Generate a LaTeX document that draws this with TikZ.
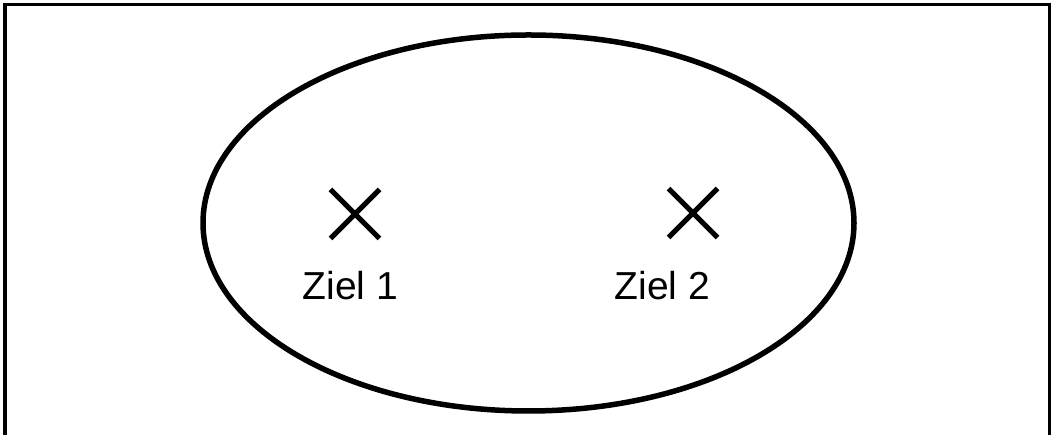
\documentclass[tikz,border=0pt]{standalone}
\usepackage{fontspec}
\setmainfont{Liberation Sans}
\usetikzlibrary{shapes.misc,shapes.geometric}
\begin{document}
\begin{tikzpicture}[x=1pt,y=1pt,
  frame/.style={line width=3.5pt},
  area/.style={line width=5.5pt},
  target/.style={cross out,draw,line width=5pt,minimum size=44pt,inner sep=0pt},
  lbl/.style={anchor=base,inner sep=0pt,font=\fontsize{39}{44}\selectfont}]
\useasboundingbox (0,0) rectangle (1052,435);
\draw[frame] (5,0) -- (5,430.5) -- (1049.5,430.5) -- (1049.5,0);
\node[draw,area,ellipse,minimum width=651pt,minimum height=376pt,inner sep=0pt] (set) at (528.5,212) {};
\node[target] (x1) at (355,221) {};
\node[target] (x2) at (693,222) {};
\node[lbl] (z1) at (350.5,135) {Ziel 1};
\node[lbl] (z2) at (662.5,135) {Ziel 2};
\end{tikzpicture}
\end{document}
